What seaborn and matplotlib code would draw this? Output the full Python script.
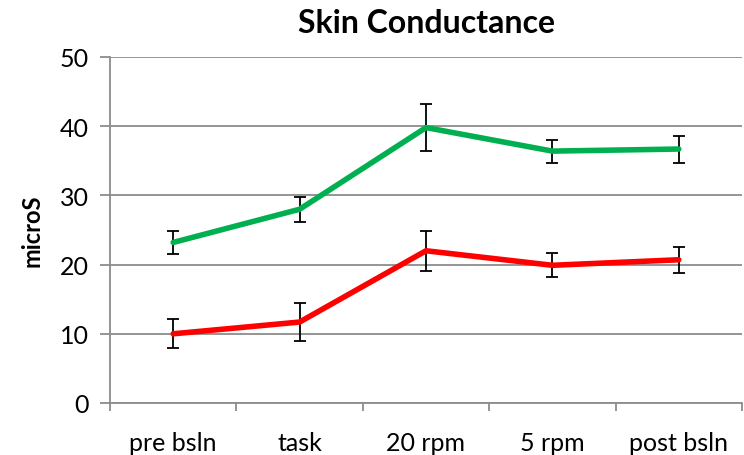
import numpy as np
import pandas as pd
import matplotlib
matplotlib.use("Agg")
import matplotlib.pyplot as plt
import seaborn as sns

# Chart data
conditions = ["pre bsln", "task", "20 rpm", "5 rpm", "post bsln"]
green_mean = [23.2, 28.0, 39.8, 36.4, 36.7]
green_err = [1.65, 1.8, 3.35, 1.65, 1.95]
red_mean = [10.0, 11.7, 22.0, 19.9, 20.7]
red_err = [2.1, 2.7, 2.9, 1.75, 1.85]

sns.set_style("white")
plt.rcParams["font.family"] = ["Lato", "DejaVu Sans"]
plt.rcParams["text.color"] = "black"
plt.rcParams["axes.labelcolor"] = "black"

fig = plt.figure(figsize=(7.44, 4.56), dpi=100)
ax = fig.add_axes([110 / 744, 1 - 404 / 456, 632 / 744, 346 / 456])

x = np.arange(len(conditions))
df = pd.DataFrame({
    "x": np.concatenate([x, x]),
    "value": green_mean + red_mean,
    "series": ["green"] * 5 + ["red"] * 5,
})

# Error bars first so the lines sit on top
ax.errorbar(x, green_mean, yerr=green_err, fmt="none", ecolor="black",
            elinewidth=1.3, capsize=4.2, capthick=1.3, zorder=2)
ax.errorbar(x, red_mean, yerr=red_err, fmt="none", ecolor="black",
            elinewidth=1.3, capsize=4.2, capthick=1.3, zorder=2)

sns.lineplot(data=df, x="x", y="value", hue="series",
             palette={"green": "#00b050", "red": "#ff0000"},
             linewidth=4, legend=False, ax=ax, zorder=3)

ax.set_xlim(-0.5, 4.5)
ax.set_ylim(0, 50)
ax.set_yticks(range(0, 51, 10))
ax.set_xticks(x)
ax.set_xticklabels(conditions)
ax.set_xticks(np.arange(-0.5, 5, 1), minor=True)

ax.yaxis.grid(True, color="#8c8c8c", linewidth=1.3)
ax.set_axisbelow(True)

for side in ["top", "right"]:
    ax.spines[side].set_visible(False)
for side in ["left", "bottom"]:
    ax.spines[side].set_color("#8c8c8c")
    ax.spines[side].set_linewidth(1.3)

ax.tick_params(axis="y", which="major", length=7, color="#8c8c8c",
               width=1.3, labelsize=18, labelcolor="black", left=True, pad=8)
ax.tick_params(axis="x", which="major", length=0, labelsize=18,
               labelcolor="black", pad=20)
ax.tick_params(axis="x", which="minor", length=6, color="#8c8c8c",
               width=1.3, bottom=True)

ax.set_xlabel("")
ax.set_ylabel("microS", fontsize=17, fontweight="bold", labelpad=12)
ax.set_title("Skin Conductance", fontsize=23, fontweight="bold", pad=18)

fig.savefig("out.png", dpi=100)
